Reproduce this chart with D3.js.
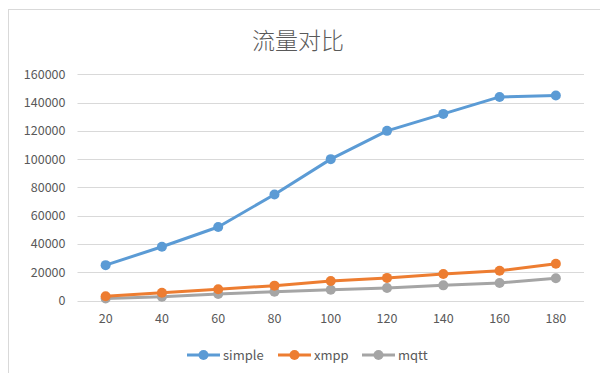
<!DOCTYPE html>
<html>
<head>
<meta charset="utf-8">
<script src="https://cdn.jsdelivr.net/npm/d3@7/dist/d3.min.js"></script>
<style>
  html, body { margin: 0; padding: 0; background: #fff; }
  svg { display: block; }
</style>
</head>
<body>
<svg id="chart" width="600" height="373"></svg>
<script>
// Traffic comparison per client count
const categories = [20, 40, 60, 80, 100, 120, 140, 160, 180];
const simpleValues = [25000, 38000, 52000, 75000, 100000, 120000, 132000, 144000, 145000];
const xmppValues = [3000, 5500, 8000, 10500, 13800, 16000, 18700, 21000, 26000];
const mqttValues = [1500, 2700, 4600, 6200, 7600, 8800, 10700, 12400, 15700];
const yTicks = [0, 20000, 40000, 60000, 80000, 100000, 120000, 140000, 160000];
const seriesNames = ["simple", "xmpp", "mqtt"];
const seriesColors = ["#5b9bd5", "#ed7d31", "#a5a5a5"];

const series = [simpleValues, xmppValues, mqttValues].map((vals, i) => ({
  name: seriesNames[i],
  color: seriesColors[i],
  values: vals.map((v, j) => ({ x: categories[j], y: v }))
}));

const svg = d3.select("#chart");
const font = "'Microsoft YaHei', 'Noto Sans CJK SC', 'DejaVu Sans', sans-serif";
const textColor = "#595959";

// chart area frame
svg.append("rect")
  .attr("x", 8.5).attr("y", 9.5)
  .attr("width", 620).attr("height", 400)
  .attr("fill", "#fff")
  .attr("stroke", "#d9d9d9").attr("stroke-width", 1);

const plot = { left: 77.5, right: 584, top: 74.3, bottom: 300.5 };

const x = d3.scaleBand()
  .domain(categories)
  .range([plot.left, plot.right]);

const y = d3.scaleLinear()
  .domain([0, 160000])
  .range([plot.bottom, plot.top]);

// title
svg.append("text")
  .attr("x", 298).attr("y", 49)
  .attr("text-anchor", "middle")
  .attr("font-family", font)
  .attr("font-size", 23)
  .attr("font-weight", 300)
  .attr("fill", textColor)
  .text("流量对比");

// y labels
const yAxis = d3.axisLeft(y).tickValues(yTicks).tickSize(0).tickPadding(12)
  .tickFormat(d3.format("d"));
const gy = svg.append("g")
  .attr("transform", `translate(${plot.left},0)`)
  .call(yAxis);
gy.select(".domain").remove();
gy.selectAll("text")
  .attr("font-family", font)
  .attr("font-size", 12.5)
  .attr("fill", textColor);

// horizontal gridlines
svg.append("g").selectAll("line")
  .data(yTicks)
  .join("line")
  .attr("x1", plot.left).attr("x2", plot.right)
  .attr("y1", d => Math.round(y(d)) + 0.5)
  .attr("y2", d => Math.round(y(d)) + 0.5)
  .attr("stroke", "#d9d9d9").attr("stroke-width", 1);

// x labels
const xAxis = d3.axisBottom(x).tickSize(0).tickPadding(14);
const gx = svg.append("g")
  .attr("transform", `translate(0,${plot.bottom})`)
  .call(xAxis);
gx.select(".domain").remove();
gx.selectAll("text")
  .attr("font-family", font)
  .attr("font-size", 12.5)
  .attr("fill", textColor);

const cx = d => x(d.x) + x.bandwidth() / 2;
const line = d3.line().x(cx).y(d => y(d.y));

// series lines and markers, drawn so simple sits on top
const order = [2, 1, 0];
order.forEach(i => {
  const s = series[i];
  const g = svg.append("g");
  g.append("path")
    .datum(s.values)
    .attr("d", line)
    .attr("fill", "none")
    .attr("stroke", s.color)
    .attr("stroke-width", 3)
    .attr("stroke-linejoin", "round")
    .attr("stroke-linecap", "round");
  g.selectAll("circle")
    .data(s.values)
    .join("circle")
    .attr("cx", cx)
    .attr("cy", d => y(d.y))
    .attr("r", 5)
    .attr("fill", s.color);
});

// legend
const legendX = [187, 278, 362];
const legendY = 355;
const legend = svg.append("g");
series.forEach((s, i) => {
  const g = legend.append("g").attr("transform", `translate(${legendX[i]},${legendY})`);
  g.append("line")
    .attr("x1", 0).attr("x2", 33)
    .attr("y1", 0).attr("y2", 0)
    .attr("stroke", s.color).attr("stroke-width", 3);
  g.append("circle").attr("cx", 16.5).attr("cy", 0).attr("r", 5).attr("fill", s.color);
  g.append("text")
    .attr("x", 36).attr("y", 0)
    .attr("dy", "0.35em")
    .attr("font-family", font)
    .attr("font-size", 13)
    .attr("fill", textColor)
    .text(s.name);
});
</script>
</body>
</html>
